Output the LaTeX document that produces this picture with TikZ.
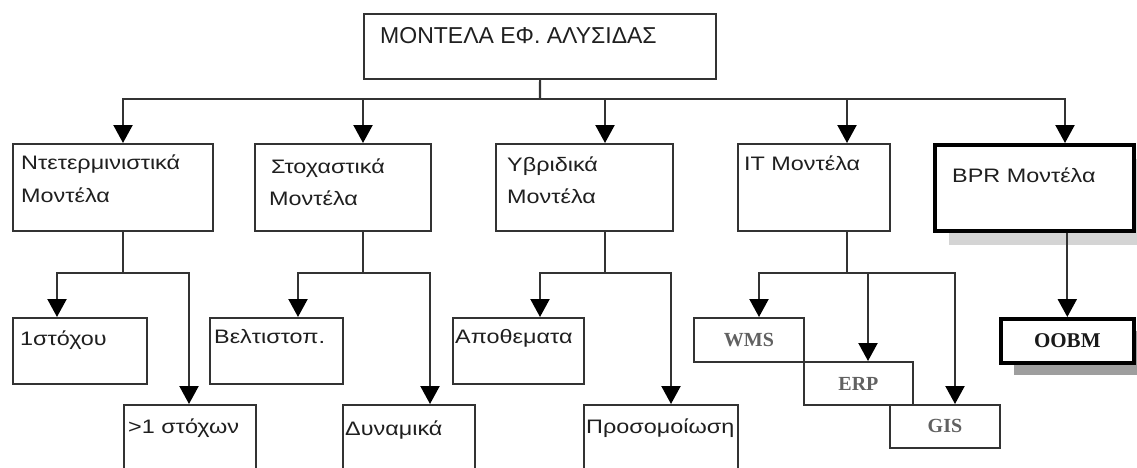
\documentclass[tikz,border=0pt]{standalone}
\usepackage{fontspec}
\setmainfont{Liberation Sans}
\newfontfamily\grf[FakeStretch=1.2]{Liberation Sans}
\newfontfamily\tmf{Liberation Serif}
\usetikzlibrary{arrows.meta,shadows}
\begin{document}
\begin{tikzpicture}[x=1pt,y=-1pt,
  box/.style={draw=black!80,line width=2.2pt,inner sep=0pt,anchor=north west,fill=white},
  bbox/.style={draw=black,line width=3.6pt,inner sep=0pt,anchor=north west,fill=white},
  itbox/.style={draw=black!80,line width=1.9pt,inner sep=0pt,anchor=north west,font=\tmf\bfseries\fontsize{20pt}{22pt}\selectfont,text=black!62},
  lbl/.style={anchor=base west,inner sep=0pt,text=black!88,font=\grf\fontsize{19.5pt}{21pt}\selectfont},
  conn/.style={draw=black!80,line width=2.2pt},
  arr/.style={conn,-{Triangle[length=18pt,width=19pt,color=black]}}
]
\path[use as bounding box] (0,0) rectangle (1137,467);
\clip (0,0) rectangle (1137,467);
\fill[white] (0,0) rectangle (1137,467);

% top
\node[box,minimum width=352pt,minimum height=65pt] (top) at (363,13) {};
\node[anchor=base west,inner sep=0pt,text=black!88,font=\fontsize{23pt}{25pt}\selectfont] (toptxt) at (380,43) {ΜΟΝΤΕΛΑ ΕΦ. ΑΛΥΣΙΔΑΣ};

% level 2
\node[box,minimum width=200pt,minimum height=87pt] (b1) at (12,143) {};
\node[box,minimum width=176pt,minimum height=87pt] (b2) at (254,143) {};
\node[box,minimum width=177pt,minimum height=87pt] (b3) at (495,143) {};
\node[box,minimum width=152pt,minimum height=87pt] (b4) at (737,143) {};
\node[bbox,minimum width=199pt,minimum height=86pt,
  drop shadow={shadow xshift=14pt,shadow yshift=-14pt,fill=black!17,opacity=1}] (b5) at (933,143) {};

\node[lbl] (t1a) at (21,169) {Ντετερμινιστικά};
\node[lbl] (t1b) at (21,202) {Μοντέλα};
\node[lbl] (t2a) at (271,173) {Στοχαστικά};
\node[lbl] (t2b) at (269,205) {Μοντέλα};
\node[lbl] (t3a) at (507,171) {Υβριδικά};
\node[lbl] (t3b) at (507,203) {Μοντέλα};
\node[lbl] (t4a) at (744,170) {IT Μοντέλα};
\node[lbl] (t5a) at (952,182) {BPR Μοντέλα};

% level 3
\node[box,minimum width=134pt,minimum height=66pt] (b11) at (12,317) {};
\node[box,minimum width=132pt,minimum height=80pt] (b12) at (123,404) {};
\node[box,minimum width=133pt,minimum height=66pt] (b21) at (209,317) {};
\node[box,minimum width=132pt,minimum height=80pt] (b22) at (342,404) {};
\node[box,minimum width=131pt,minimum height=66pt] (b31) at (452,317) {};
\node[box,minimum width=154pt,minimum height=80pt] (b32) at (583,404) {};

\node[lbl] (t11) at (20,345) {1στόχου};
\node[lbl] (t12) at (128,433) {>1 στόχων};
\node[lbl] (t21) at (214,343) {Βελτιστοπ.};
\node[lbl] (t22) at (345,435) {Δυναμικά};
\node[lbl] (t31) at (455,343) {Αποθεματα};
\node[lbl] (t32) at (586,433) {Προσομοίωση};

\node[itbox,minimum width=110pt,minimum height=44pt] (wms) at (693,317) {WMS};
\node[itbox,minimum width=109pt,minimum height=43pt] (erp) at (803,361) {ERP};
\node[itbox,minimum width=110pt,minimum height=43pt] (gis) at (889,404) {GIS};

\node[bbox,minimum width=133pt,minimum height=44pt,
  font=\tmf\bfseries\fontsize{21pt}{23pt}\selectfont,text=black!90,
  drop shadow={shadow xshift=13pt,shadow yshift=-12pt,fill=black!38,opacity=1}] (oobm) at (999,317) {OOBM};

% connectors top
\coordinate (bus) at (540,99);
\draw[conn] (top.south) -- (bus);
\draw[arr] (bus) -| ([xshift=111pt]b1.north west);
\draw[arr] (bus) -| ([xshift=109pt]b2.north west);
\draw[arr] (bus) -| ([xshift=110pt]b3.north west);
\draw[arr] (bus) -| ([xshift=110pt]b4.north west);
\draw[arr] (bus) -| ([xshift=132pt]b5.north west);

% branch 1
\coordinate (j1) at (123,273);
\draw[conn] (b1.south -| j1) -- (j1);
\draw[arr] (j1) -| ([xshift=45pt]b11.north west);
\draw[arr] (j1) -| ([xshift=66pt]b12.north west);
% branch 2
\coordinate (j2) at (363,273);
\draw[conn] (b2.south -| j2) -- (j2);
\draw[arr] (j2) -| ([xshift=89pt]b21.north west);
\draw[arr] (j2) -| ([xshift=88pt]b22.north west);
% branch 3
\coordinate (j3) at (605,273);
\draw[conn] (b3.south -| j3) -- (j3);
\draw[arr] (j3) -| ([xshift=88pt]b31.north west);
\draw[arr] (j3) -| ([xshift=88pt]b32.north west);
% branch 4
\coordinate (j4) at (847,273);
\draw[conn] (b4.south -| j4) -- (j4);
\draw[arr] (j4) -| ([xshift=66pt]wms.north west);
\draw[arr] (j4) -| ([xshift=65pt]erp.north west);
\draw[arr] (j4) -| ([xshift=66pt]gis.north west);
% branch 5
\draw[arr] (b5.south -| oobm.north) -- (oobm.north);
\end{tikzpicture}
\end{document}
